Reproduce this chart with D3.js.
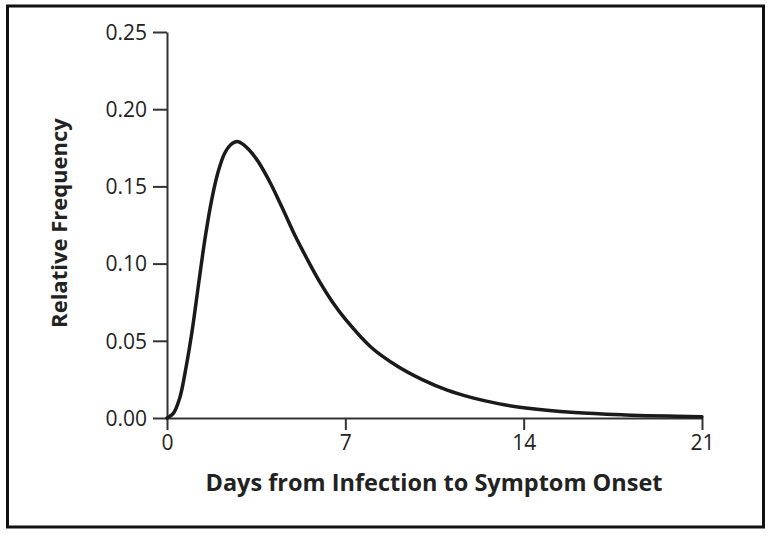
<!DOCTYPE html>
<html>
<head>
<meta charset="utf-8">
<script src="https://cdn.jsdelivr.net/npm/d3@7"></script>
<style>
  body { margin: 0; background: #fff; }
  .tick text { font-family: "Open Sans", sans-serif; font-size: 21px; fill: #222; }
  .axisTitle { font-family: "Open Sans", sans-serif; font-weight: bold; fill: #222; }
</style>
</head>
<body>
<div id="chart"></div>
<script>
// values
var days = [0, 0.25, 0.5, 0.75, 1, 1.25, 1.5, 1.75, 2, 2.25, 2.5, 2.75, 3, 3.5, 4, 4.5, 5, 5.5, 6, 6.5, 7, 8, 9, 10, 11, 12, 13, 14, 16, 18, 21];
var freq = [0, 0.003, 0.013, 0.033, 0.058, 0.088, 0.117, 0.141, 0.159, 0.171, 0.177, 0.179, 0.177, 0.168, 0.154, 0.137, 0.119, 0.103, 0.088, 0.075, 0.064, 0.046, 0.034, 0.025, 0.018, 0.013, 0.0093, 0.0066, 0.0035, 0.0020, 0.0008];
var xTicks = [0, 7, 14, 21];
var yTicks = [0, 0.05, 0.10, 0.15, 0.20, 0.25];

var svgWidth = 772;
var svgHeight = 537;

var margin = { top: 32, right: 70, bottom: 119, left: 167 };
var width = svgWidth - margin.left - margin.right;
var height = svgHeight - margin.top - margin.bottom;

var svg = d3.select("#chart")
  .append("svg")
  .attr("width", svgWidth)
  .attr("height", svgHeight);

// frame
svg.append("rect")
  .attr("x", 7.5)
  .attr("y", 6)
  .attr("width", 756)
  .attr("height", 521)
  .attr("fill", "none")
  .attr("stroke", "#111")
  .attr("stroke-width", 3);

var chartGroup = svg.append("g")
  .attr("transform", `translate(${margin.left}, ${margin.top})`);

var xScale = d3.scaleLinear().domain([0, 21]).range([0, width]);
var yScale = d3.scaleLinear().domain([0, 0.25]).range([height, 0]);

var bottomAxis = d3.axisBottom(xScale)
  .tickValues(xTicks)
  .tickSize(12)
  .tickSizeOuter(0)
  .tickPadding(5)
  .tickFormat(d3.format("d"));

var leftAxis = d3.axisLeft(yScale)
  .tickValues(yTicks)
  .tickSize(14)
  .tickSizeOuter(0)
  .tickPadding(6)
  .tickFormat(d3.format(".2f"));

var xg = chartGroup.append("g")
  .attr("transform", `translate(0, ${height})`)
  .call(bottomAxis);

var yg = chartGroup.append("g")
  .call(leftAxis);

[xg, yg].forEach(function(g) {
  g.select(".domain").attr("stroke", "#333").attr("stroke-width", 2);
  g.selectAll(".tick line").attr("stroke", "#333").attr("stroke-width", 2);
});
yg.selectAll(".tick text").attr("dy", "0.35em");

// curve
var line = d3.line()
  .x(function(d, i) { return xScale(days[i]); })
  .y(function(d) { return yScale(d); })
  .curve(d3.curveCatmullRom.alpha(0.5));

chartGroup.append("path")
  .datum(freq)
  .attr("d", line)
  .attr("fill", "none")
  .attr("stroke", "#1a1a1a")
  .attr("stroke-width", 3.5)
  .attr("stroke-linecap", "round");

// axis titles
chartGroup.append("text")
  .attr("class", "axisTitle")
  .attr("text-anchor", "middle")
  .attr("font-size", "23.5px")
  .attr("x", 434 - margin.left)
  .attr("y", 491 - margin.top)
  .text("Days from Infection to Symptom Onset");

chartGroup.append("text")
  .attr("class", "axisTitle")
  .attr("text-anchor", "middle")
  .attr("font-size", "22px")
  .attr("transform", "rotate(-90)")
  .attr("x", -(223 - margin.top))
  .attr("y", 67 - margin.left)
  .text("Relative Frequency");
</script>
</body>
</html>
